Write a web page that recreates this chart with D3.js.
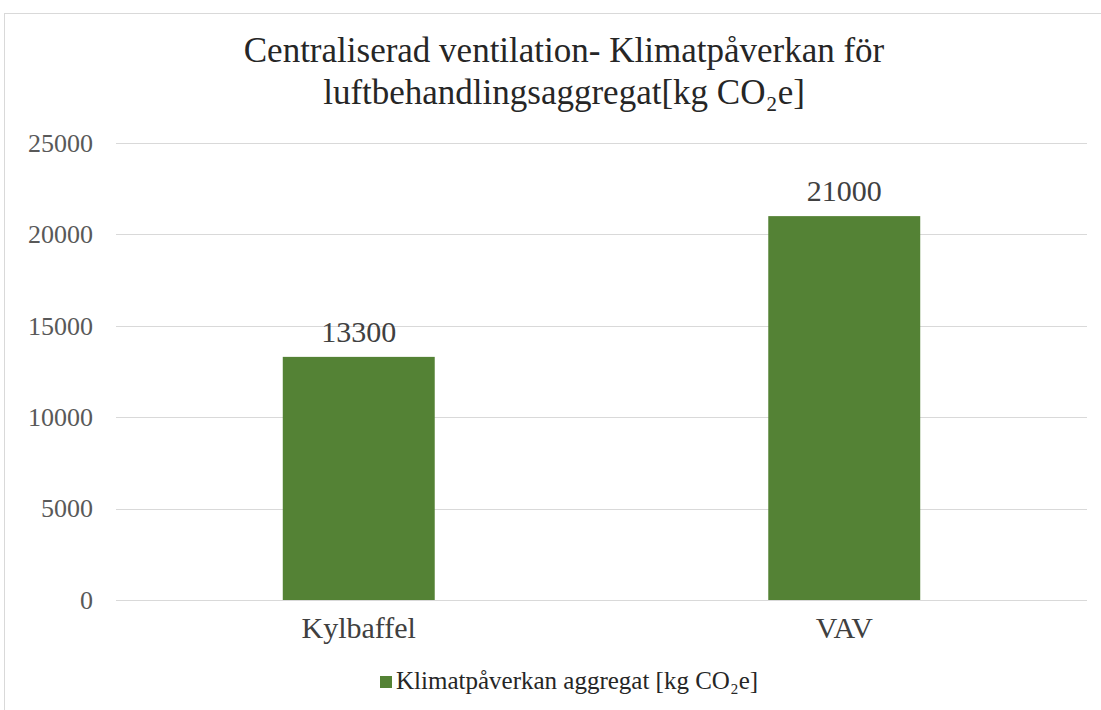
<!DOCTYPE html>
<html>
<head>
<meta charset="utf-8">
<script src="https://cdn.jsdelivr.net/npm/d3@7"></script>
<style>
  body { margin: 0; background: #fff; }
</style>
</head>
<body>
<script>
'use strict';

// chart data
const categories = ["Kylbaffel", "VAV"];
const values = [13300, 21000];
const yTicks = [0, 5000, 10000, 15000, 20000, 25000];
const seriesName = "Klimatpåverkan aggregat [kg CO₂e]";

const width = 1101, height = 710;
const barColor = "#548235";
const serif = "Liberation Serif, DejaVu Serif, Noto Serif, serif";

const svg = d3.select("body").append("svg")
  .attr("width", width)
  .attr("height", height)
  .attr("font-family", serif);

// chart area border
svg.append("rect")
  .attr("x", 4.5).attr("y", 13.5)
  .attr("width", 1110).attr("height", 720)
  .attr("fill", "none")
  .attr("stroke", "#d9d9d9");

// title
const title = svg.append("text")
  .attr("text-anchor", "middle")
  .attr("font-family", serif)
  .attr("font-size", 35)
  .attr("fill", "#262626");
title.append("tspan").attr("x", 564).attr("y", 62).text("Centraliserad ventilation- Klimatpåverkan för");
title.append("tspan").attr("x", 564).attr("y", 104).text("luftbehandlingsaggregat[kg CO₂e]");

// scales
const x = d3.scaleBand()
  .domain(categories)
  .range([116, 1087])
  .paddingInner(0.687)
  .paddingOuter(0.3435);

const y = d3.scaleLinear()
  .domain([0, 25000])
  .range([600, 143]);

// gridlines
svg.append("g")
  .selectAll("line")
  .data(yTicks)
  .enter()
  .append("line")
    .attr("x1", 116).attr("x2", 1087)
    .attr("y1", d => Math.round(y(d)) + 0.5)
    .attr("y2", d => Math.round(y(d)) + 0.5)
    .attr("stroke", "#d9d9d9")
    .attr("stroke-width", 1);

// y axis labels
const yAxis = d3.axisLeft(y).tickValues(yTicks).tickFormat(d3.format("d")).tickSize(0).tickPadding(0);
const yg = svg.append("g")
  .attr("transform", "translate(93, 0)")
  .call(yAxis);
yg.attr("font-family", serif);
yg.select(".domain").remove();
yg.selectAll("text")
  .attr("font-size", 26)
  .attr("fill", "#595959");

// x axis labels
const xAxis = d3.axisBottom(x).tickSize(0).tickPadding(0);
const xg = svg.append("g")
  .attr("transform", "translate(0, 617)")
  .call(xAxis);
xg.attr("font-family", serif);
xg.select(".domain").remove();
xg.selectAll("text")
  .attr("font-size", 30)
  .attr("fill", "#404040");

// bars
svg.selectAll(".bar")
  .data(values)
  .enter()
  .append("rect")
    .attr("class", "bar")
    .attr("x", (d, i) => x(categories[i]))
    .attr("y", d => y(d))
    .attr("width", x.bandwidth())
    .attr("height", d => y(0) - y(d))
    .attr("fill", barColor);

// data labels
svg.selectAll(".label")
  .data(values)
  .enter()
  .append("text")
    .attr("class", "label")
    .attr("text-anchor", "middle")
    .attr("x", (d, i) => x(categories[i]) + x.bandwidth() / 2)
    .attr("y", d => y(d) - 15)
    .attr("font-size", 30)
    .attr("fill", "#404040")
    .text(d => d);

// legend
svg.append("rect")
  .attr("x", 380).attr("y", 676)
  .attr("width", 12).attr("height", 12)
  .attr("fill", barColor);
svg.append("text")
  .attr("x", 396).attr("y", 689)
  .attr("font-size", 25)
  .attr("fill", "#262626")
  .text(seriesName);
</script>
</body>
</html>
